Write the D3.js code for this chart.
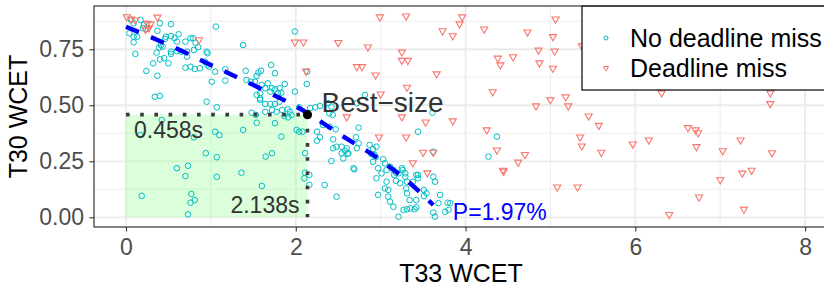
<!DOCTYPE html>
<html>
<head>
<meta charset="utf-8">
<script src="https://cdn.jsdelivr.net/npm/d3@7/dist/d3.min.js"></script>
<style>
  body { margin: 0; background: #fff; }
  text { font-family: "Liberation Sans", Arial, Helvetica, sans-serif; }
</style>
</head>
<body>
<svg id="chart" width="824" height="287"></svg>
<script>
// T33 WCET vs T30 WCET, no deadline miss
const noMiss = [
  [0.06,0.881],[0.17,0.881],[0.09,0.866],[0.21,0.858],[0.20,0.844],[0.24,0.841],[0.04,0.821],[0.09,0.806],
  [0.13,0.806],[0.09,0.781],[0.11,0.729],[0.40,0.866],[0.53,0.862],[0.37,0.832],[0.47,0.806],[0.53,0.809],
  [0.57,0.799],[0.62,0.817],[0.46,0.796],[0.41,0.769],[0.39,0.757],[0.43,0.762],[0.36,0.735],[0.45,0.710],
  [0.32,0.687],[0.24,0.653],[0.37,0.632],[0.50,0.687],[0.40,0.705],[0.53,0.729],[0.60,0.784],[0.60,0.742],
  [0.70,0.784],[0.76,0.799],[0.79,0.799],[0.82,0.779],[0.72,0.739],[0.80,0.747],[0.72,0.717],[0.70,0.668],
  [0.76,0.672],[0.81,0.662],[0.87,0.665],[0.85,0.759],[0.53,0.739],[0.65,0.739],[0.34,0.538],[0.40,0.542],
  [0.95,0.739],[0.96,0.680],
  [0.96,0.732],[0.93,0.695],[0.98,0.672],[1.05,0.650],[1.01,0.605],[1.17,0.661],[1.17,0.610],[1.38,0.769],
  [1.41,0.654],[1.06,0.851],[1.71,0.680],[1.755,0.643],[1.67,0.598],[1.72,0.576],[1.70,0.561],[1.79,0.554],
  [1.87,0.595],[1.99,0.561],[2.04,0.491],[0.95,0.516],[1.07,0.491],[1.48,0.467],[1.53,0.457],[1.58,0.524],
  [1.64,0.506],[1.70,0.506],[1.755,0.506],[1.81,0.516],[1.64,0.471],[1.72,0.479],[1.775,0.471],[1.84,0.479],
  [1.905,0.482],[1.93,0.471],[1.95,0.457],[1.865,0.452],[1.91,0.446],[1.99,0.829],[1.58,0.554],[1.42,0.613],
  [1.47,0.605],[1.52,0.605],[1.56,0.646],[1.59,0.654],[1.54,0.631],[1.64,0.576],[1.54,0.546],[1.58,0.531],
  [1.60,0.591],[1.81,0.576],[1.83,0.556],[1.755,0.571],
  [0.42,0.434],[0.17,0.367],[0.80,0.357],[1.05,0.382],[1.10,0.367],[1.38,0.390],[0.94,0.286],[1.07,0.268],
  [0.60,0.219],[0.73,0.230],[0.70,0.184],[1.07,0.181],[1.36,0.199],[1.645,0.271],[1.72,0.286],[1.60,0.140],
  [1.83,0.360],[1.54,0.422],[1.755,0.420],[2.01,0.390],[2.04,0.382],[2.08,0.382],[2.11,0.286],[2.11,0.199],
  [2.10,0.174],[2.16,0.189],[0.185,0.096],[0.77,0.104],[0.81,0.077],[0.76,0.065],[0.73,0.013],[2.16,0.145],
  [2.13,0.595],[2.135,0.650],[2.17,0.487],[2.23,0.491],[2.285,0.497],[2.38,0.509],[2.42,0.494],[2.395,0.464],
  [2.435,0.457],[2.72,0.509],[2.815,0.546],[2.32,0.412],[2.40,0.404],[2.47,0.393],[2.74,0.40],[2.25,0.382],
  [2.285,0.357],[2.25,0.342],[2.44,0.348],[2.48,0.315],[2.44,0.308],[2.54,0.315],[2.60,0.308],[2.62,0.286],
  [2.58,0.297],[2.71,0.357],[2.74,0.330],[2.72,0.308],[2.42,0.251],[2.54,0.286],[2.68,0.219],[2.34,0.144],
  [2.48,0.092],[2.87,0.323],[2.91,0.304],[2.95,0.315],[2.89,0.283],[2.93,0.278],[2.94,0.268],[2.91,0.248],
  [3.03,0.259],[3.05,0.241],[3.07,0.211],[3.11,0.226],[2.97,0.219],[3.01,0.196],[2.95,0.174],[3.15,0.211],
  [3.18,0.199],[3.21,0.196],[3.16,0.189],[3.25,0.219],[3.26,0.211],[3.29,0.196],[3.07,0.159],[3.18,0.163],
  [3.23,0.152],[3.29,0.181],[3.31,0.159],[3.05,0.129],[3.09,0.122],[2.97,0.10],[3.30,0.129],[3.31,0.107],
  [3.34,0.077],[3.38,0.159],[3.44,0.189],[3.42,0.077],[3.51,0.122],[3.54,0.107],[3.51,0.095],[3.62,0.181],
  [3.64,0.159],[3.70,0.10],[3.68,0.063],[3.62,0.021],[3.64,0.003],[3.76,0.025],[3.80,0.033],[3.82,0.063],
  [3.15,0.047],[3.21,0.003],[3.27,0.033],[3.31,0.036],[3.35,0.040],[3.42,0.045],[3.40,0.036],[3.09,0.092],
  [3.11,0.070],[4.37,0.36],[4.27,0.271],[3.61,0.467],[3.44,0.382],[3.62,0.293],[2.56,0.263],[2.69,0.214],
  [2.61,0.283],[3.42,0.189],[3.44,0.174],[3.79,0.065]
];

// deadline miss
const miss = [
  [0.01,0.895],[0.06,0.885],[0.11,0.88],[0.25,0.865],[0.29,0.862],[0.27,0.845],[0.23,0.838],[0.37,0.893],
  [0.86,0.792],[1.99,0.782],[2.09,0.782],[2.12,0.652],[2.50,0.78],[2.60,0.448],[2.85,0.76],[2.72,0.672],
  [2.78,0.672],[2.94,0.635],[3.00,0.55],[2.99,0.894],[3.30,0.898],[3.25,0.737],[3.25,0.70],[3.32,0.70],
  [3.31,0.58],[3.25,0.448],[3.30,0.358],[2.98,0.358],[3.50,0.29],[3.62,0.29],[3.38,0.243],[3.55,0.198],
  [3.66,0.64],[3.53,0.425],[3.73,0.832],[3.85,0.81],[3.93,0.863],[3.96,0.894],[3.85,0.43],[4.22,0.84],
  [4.32,0.56],[4.25,0.39],[4.37,0.30],[4.38,0.71],[4.41,0.68],[4.56,0.716],[4.44,0.21],[4.45,0.205],
  [4.62,0.246],[4.70,0.28],[4.73,0.827],[4.83,0.497],[4.86,0.746],[4.87,0.689],[5.00,0.524],[5.03,0.806],
  [5.05,0.742],[5.03,0.665],[5.06,0.885],[5.18,0.537],[5.21,0.497],[5.08,0.135],[5.32,0.135],[5.35,0.358],
  [5.37,0.318],[5.45,0.452],[5.57,0.41],[5.60,0.29],[5.37,0.765],[5.97,0.327],[6.16,0.345],[6.31,0.555],
  [6.40,0.012],[6.62,0.40],[6.71,0.39],[6.74,0.377],[6.72,0.315],[6.75,0.09],[7.03,0.297],[7.00,0.167],
  [7.24,0.345],[7.26,0.197],[7.37,0.21],[7.28,0.036],[7.59,0.555],[7.59,0.507],[7.61,0.288]
];

// boundary curve (blue dashed)
const boundary = [[0,0.85],[0.5,0.77],[1.0,0.68],[1.5,0.59],[2.14,0.465],[2.5,0.375],[3.0,0.255],[3.37,0.144],[3.62,0.055]];

const xTicks = [0, 2, 4, 6, 8];
const xMinor = [1, 3, 5, 7];
const yTicks = [0, 0.25, 0.5, 0.75];
const yMinor = [0.125, 0.375, 0.625, 0.875];
const best = {x: 2.138, y: 0.458};
const legendLabels = ["No deadline miss", "Deadline miss"];

const cyan = '#00BFC4', red = '#F8766D';
const svg = d3.select('#chart');
const P = {left: 94, right: 828, top: 6, bottom: 227};

const x = d3.scaleLinear().domain([-0.377, 8.27]).range([P.left, P.right]);
const y = d3.scaleLinear().domain([-0.0433, 0.943]).range([P.bottom, P.top]);

svg.append('clipPath').attr('id', 'panel')
  .append('rect').attr('x', P.left).attr('y', P.top)
  .attr('width', P.right - P.left).attr('height', P.bottom - P.top);

const g = svg.append('g').attr('clip-path', 'url(#panel)');

// grid
g.selectAll('line.vmin').data(xMinor).join('line')
  .attr('x1', d => x(d)).attr('x2', d => x(d)).attr('y1', P.top).attr('y2', P.bottom)
  .style('stroke', '#ebebeb').style('stroke-width', 0.9);
g.selectAll('line.hmin').data(yMinor).join('line')
  .attr('y1', d => y(d)).attr('y2', d => y(d)).attr('x1', P.left).attr('x2', P.right)
  .style('stroke', '#ebebeb').style('stroke-width', 0.9);
g.selectAll('line.vmaj').data(xTicks).join('line')
  .attr('x1', d => x(d)).attr('x2', d => x(d)).attr('y1', P.top).attr('y2', P.bottom)
  .style('stroke', '#ebebeb').style('stroke-width', 1.8);
g.selectAll('line.hmaj').data(yTicks).join('line')
  .attr('y1', d => y(d)).attr('y2', d => y(d)).attr('x1', P.left).attr('x2', P.right)
  .style('stroke', '#ebebeb').style('stroke-width', 1.8);

// best-size region
g.append('rect')
  .attr('x', x(0)).attr('y', y(best.y))
  .attr('width', x(best.x) - x(0)).attr('height', y(0) - y(best.y))
  .style('fill', '#98fb98').style('opacity', 0.35);

// points
g.selectAll('circle.ok').data(noMiss).join('circle')
  .attr('cx', d => x(d[0])).attr('cy', d => y(d[1])).attr('r', 2.8)
  .style('fill', 'none').style('stroke', cyan).style('stroke-width', 1);

const tri = d3.symbol().type(d3.symbolTriangle).size(22);
g.selectAll('path.miss').data(miss).join('path')
  .attr('d', tri)
  .attr('transform', d => 'translate(' + x(d[0]) + ',' + y(d[1]) + ') rotate(180)')
  .style('fill', 'none').style('stroke', red).style('stroke-width', 1.1);

// dotted guides
g.append('line')
  .attr('x1', x(0)).attr('x2', x(best.x)).attr('y1', y(best.y)).attr('y2', y(best.y))
  .style('stroke', '#3a3a3a').style('stroke-width', 3.6).style('stroke-dasharray', '3.6,10.6');
g.append('line')
  .attr('x1', x(best.x)).attr('x2', x(best.x)).attr('y1', y(best.y)).attr('y2', y(0))
  .style('stroke', '#3a3a3a').style('stroke-width', 3.6).style('stroke-dasharray', '3.6,10.6');

// boundary line
g.append('path').datum(boundary)
  .attr('d', d3.line().x(d => x(d[0])).y(d => y(d[1])).curve(d3.curveMonotoneX))
  .style('fill', 'none').style('stroke', 'blue').style('stroke-width', 4.4)
  .style('stroke-dasharray', '14,13');

g.append('circle').attr('cx', x(best.x)).attr('cy', y(best.y)).attr('r', 4.6).style('fill', 'black');

// annotations
g.append('text').attr('x', x(best.x) + 14).attr('y', y(best.y) - 3)
  .text('Best\u2212size').style('font-size', '28px').style('fill', '#333');
g.append('text').attr('x', x(0) + 8).attr('y', y(best.y) + 23)
  .text(best.y + 's').style('font-size', '23px').style('fill', '#333');
g.append('text').attr('x', x(best.x) - 8).attr('y', y(0) - 4).attr('text-anchor', 'end')
  .text(best.x + 's').style('font-size', '23px').style('fill', '#333');
g.append('text').attr('x', x(3.85)).attr('y', y(0) + 3)
  .text('P=1.97%').style('font-size', '23px').style('fill', 'blue');

// axes
const xAxis = svg.append('g').attr('transform', 'translate(0,' + P.bottom + ')')
  .call(d3.axisBottom(x).tickValues(xTicks).tickFormat(d3.format('d')).tickSize(4.5).tickPadding(7));
const yAxis = svg.append('g').attr('transform', 'translate(' + P.left + ',0)')
  .call(d3.axisLeft(y).tickValues(yTicks).tickFormat(d3.format('.2f')).tickSize(4.5).tickPadding(5.5));
[xAxis, yAxis].forEach(a => {
  a.select('.domain').remove();
  a.selectAll('line').style('stroke', '#333').style('stroke-width', 1.1);
  a.selectAll('text').style('font-size', '23px').style('fill', '#4d4d4d')
    .style('font-family', '"Liberation Sans", Arial, sans-serif');
});

// legend
const lg = svg.append('g');
lg.append('rect').attr('x', 582).attr('y', P.top).attr('width', 260).attr('height', 84)
  .style('fill', 'white').style('stroke', 'black').style('stroke-width', 1.2);
const items = lg.selectAll('g.item').data(legendLabels).join('g')
  .attr('transform', (d, i) => 'translate(606,' + (38 + i * 30) + ')');
items.filter((d, i) => i === 0).append('circle').attr('r', 2)
  .style('fill', 'none').style('stroke', cyan).style('stroke-width', 1);
items.filter((d, i) => i === 1).append('path').attr('d', d3.symbol().type(d3.symbolTriangle).size(12))
  .attr('transform', 'rotate(180)')
  .style('fill', 'none').style('stroke', red).style('stroke-width', 1);
items.append('text').attr('x', 24).attr('y', 8.8).text(d => d)
  .style('font-size', '25px').style('fill', 'black');

// panel border
svg.append('rect').attr('x', P.left).attr('y', P.top)
  .attr('width', P.right - P.left).attr('height', P.bottom - P.top)
  .style('fill', 'none').style('stroke', '#333').style('stroke-width', 1.2);

// axis titles
svg.append('text').attr('x', (P.left + P.right) / 2).attr('y', 282).attr('text-anchor', 'middle')
  .text('T33 WCET').style('font-size', '25px');
svg.append('text').attr('transform', 'translate(27,' + ((P.top + P.bottom) / 2) + ') rotate(-90)')
  .attr('text-anchor', 'middle').text('T30 WCET').style('font-size', '25px');
</script>
</body>
</html>
